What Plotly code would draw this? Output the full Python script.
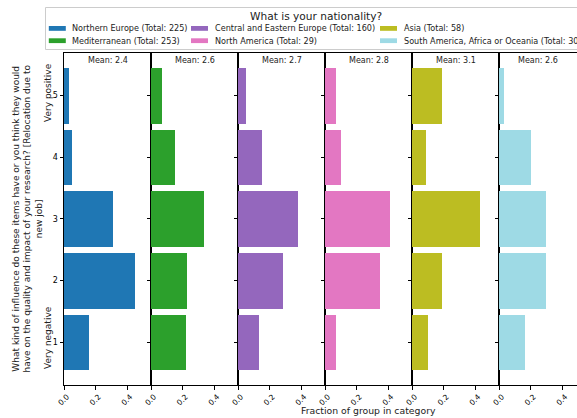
import plotly.graph_objects as go

# ---- data ----
groups = [
    "Northern Europe",
    "Mediterranean",
    "Central and Eastern Europe",
    "North America",
    "Asia",
    "South America, Africa or Oceania",
]
totals = [225, 253, 160, 29, 58, 30]
ratings = [1, 2, 3, 4, 5]
rating_ticks = ["1", "2", "3", "4", "5"]
# counts per rating (1..5)
counts_northern_europe = [35, 101, 70, 12, 7]
counts_mediterranean = [56, 57, 84, 39, 17]
counts_central_eastern = [21, 46, 61, 24, 8]
counts_north_america = [2, 10, 12, 3, 2]
counts_asia = [6, 11, 25, 5, 11]
counts_south_america = [5, 9, 9, 6, 1]
all_counts = [counts_northern_europe, counts_mediterranean, counts_central_eastern,
              counts_north_america, counts_asia, counts_south_america]
colors = ["#1f77b4", "#2ca02c", "#9467bd", "#e377c2", "#bcbd22", "#9edae5"]
x_ticks = [0.0, 0.2, 0.4]
x_ticktext = ["0.0", "0.2", "0.4"]

W, H = 577, 418
FONT = "DejaVu Sans"


def fx(p):
    return p / W


def fy(p):
    return 1 - p / H


panel_left, panel_w = 64.0, 87.0
plot_top, plot_bot = 52.7, 385.0
xmax = 0.55

fig = go.Figure()
annotations = []
shapes = []
layout = {}
for i, (g, tot, cnt, col) in enumerate(zip(groups, totals, all_counts, colors)):
    frac = [c / tot for c in cnt]
    mean = sum(r * c for r, c in zip(ratings, cnt)) / tot
    n = "" if i == 0 else str(i + 1)
    fig.add_trace(go.Bar(
        x=frac, y=ratings, orientation="h", width=0.9,
        marker=dict(color=col, line=dict(width=0)),
        name=f"{g} (Total: {tot})", showlegend=False,
        xaxis="x" + n, yaxis="y" + n,
    ))
    x0 = panel_left + i * panel_w
    x1 = x0 + panel_w
    rng_max = xmax
    if x1 > W:
        rng_max = xmax * (W - x0) / panel_w
        x1 = W
    layout["xaxis" + n] = dict(
        domain=[fx(x0), fx(x1)], range=[0, rng_max], anchor="y" + n,
        tickvals=x_ticks, ticktext=x_ticktext, tickangle=-45, ticklabelshift=3,
        ticks="outside", ticklen=3.5, tickwidth=0.8, tickcolor="black",
        showline=True, linecolor="black", linewidth=1, mirror=True,
        showgrid=False, zeroline=False, automargin=False,
        tickfont=dict(family=FONT, size=7.5, color="black"),
    )
    layout["yaxis" + n] = dict(
        domain=[fy(plot_bot), fy(plot_top)], range=[0.305, 5.695], anchor="x" + n,
        tickvals=ratings, ticktext=rating_ticks, showticklabels=(i == 0),
        ticks="outside", ticklen=3.5, tickwidth=0.8, tickcolor="black",
        showline=True, linecolor="black", linewidth=1, mirror=True,
        showgrid=False, zeroline=False, automargin=False,
        tickfont=dict(family=FONT, size=8, color="black"),
    )
    annotations.append(dict(
        text=f"Mean: {mean:.1f}", xref=f"x{n} domain", yref=f"y{n} domain",
        x=0.5, y=1, xanchor="center", yanchor="top", yshift=-1, showarrow=False,
        font=dict(family=FONT, size=8, color="#222"),
    ))

# axis titles
annotations.append(dict(
    text="What kind of influence do these items have or you think they would<br>"
         "have on the quality and impact of your research? [Relocation due to<br>new job]",
    xref="paper", yref="paper", x=fx(27), y=fy(218.5), textangle=-90,
    xanchor="center", yanchor="middle", showarrow=False, align="center",
    font=dict(family=FONT, size=9, color="#222"),
))
annotations.append(dict(
    text="Very positive", xref="paper", yref="paper", x=fx(48), y=fy(93),
    textangle=-90, xanchor="center", yanchor="middle", showarrow=False,
    font=dict(family=FONT, size=9, color="#222"),
))
annotations.append(dict(
    text="Very negative", xref="paper", yref="paper", x=fx(48), y=fy(338),
    textangle=-90, xanchor="center", yanchor="middle", showarrow=False,
    font=dict(family=FONT, size=9, color="#222"),
))
annotations.append(dict(
    text="Fraction of group in category", xref="paper", yref="paper",
    x=fx(368.5), y=fy(410), xanchor="center", yanchor="middle", showarrow=False,
    font=dict(family=FONT, size=9.3, color="#222"),
))

# legend (drawn manually to match the column layout)
shapes.append(dict(type="rect", xref="paper", yref="paper",
                   x0=fx(45.5), x1=fx(600), y0=fy(49.5), y1=fy(7.5),
                   line=dict(color="#cccccc", width=1), fillcolor="white", layer="above"))
annotations.append(dict(
    text="What is your nationality?", xref="paper", yref="paper",
    x=fx(316), y=fy(15.6), xanchor="center", yanchor="middle", showarrow=False,
    font=dict(family=FONT, size=10.6, color="#222"),
))
col_sw = [48.8, 191.0, 380.0]
row_y = [28.4, 40.7]
order = [(0, 0), (1, 0), (0, 1), (1, 1), (0, 2), (1, 2)]  # (row, col) per group
for (r, c), g, tot, col in zip(order, groups, totals, colors):
    sx = col_sw[c]
    yy = row_y[r]
    shapes.append(dict(type="rect", xref="paper", yref="paper",
                       x0=fx(sx), x1=fx(sx + 17), y0=fy(yy + 2.4), y1=fy(yy - 2.4),
                       line=dict(width=0), fillcolor=col, layer="above"))
    annotations.append(dict(
        text=f"{g} (Total: {tot})", xref="paper", yref="paper",
        x=fx(sx + 21.5), y=fy(yy), xanchor="left", yanchor="middle", showarrow=False,
        font=dict(family=FONT, size=8.1, color="#222"),
    ))

fig.update_layout(
    width=W, height=H,
    margin=dict(l=0, r=0, t=0, b=0, autoexpand=False),
    paper_bgcolor="white", plot_bgcolor="white",
    bargap=0, showlegend=False,
    annotations=annotations, shapes=shapes,
    font=dict(family=FONT),
    **layout,
)
fig.write_html(
    "out.html",
    config={"displayModeBar": False},
    post_script="document.body.style.margin='0';document.body.style.padding='0';"
                "document.body.style.overflow='hidden';",
)
